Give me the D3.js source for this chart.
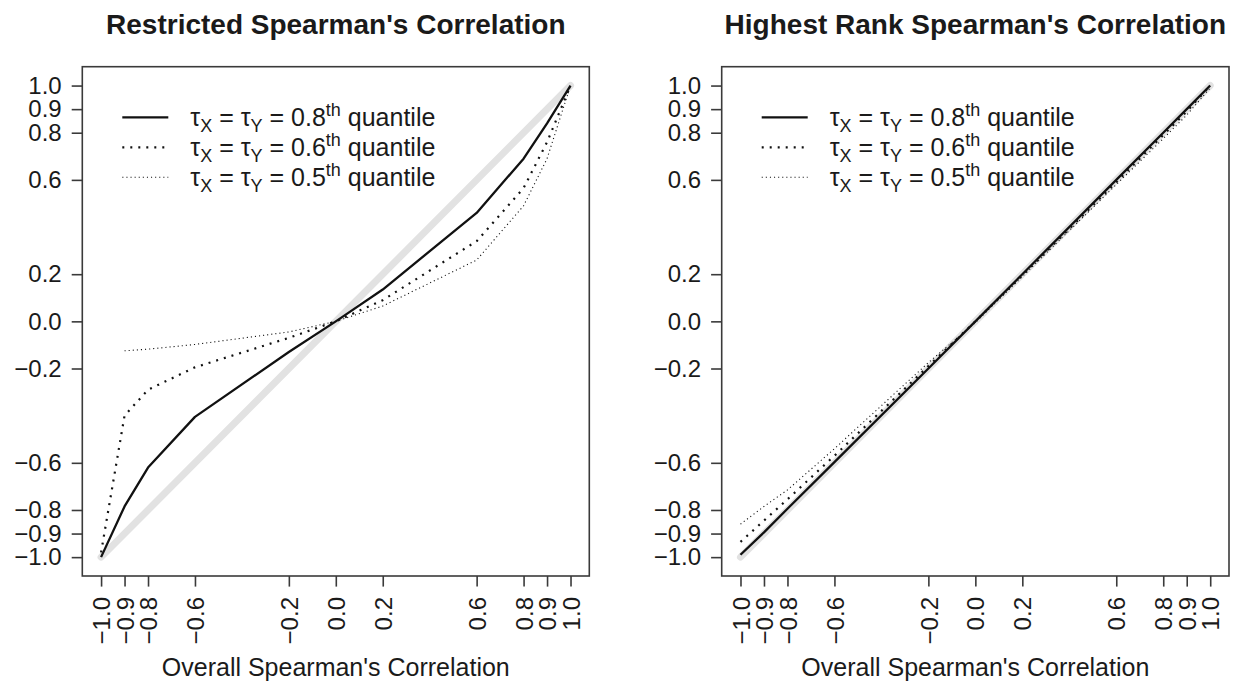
<!DOCTYPE html>
<html>
<head>
<meta charset="utf-8">
<script src="https://cdn.jsdelivr.net/npm/d3@7"></script>
<style>
  body { margin: 0; background: #fff; }
  svg { display: block; font-family: "Liberation Sans", Arial, Helvetica, sans-serif; }
</style>
</head>
<body>
<div id="chart"></div>
<script>
// values
const rhoOverall = [-1, -0.9, -0.8, -0.6, -0.2, 0, 0.2, 0.6, 0.8, 0.9, 1];
const tickValues = [-1, -0.9, -0.8, -0.6, -0.2, 0, 0.2, 0.6, 0.8, 0.9, 1];

// restricted spearman (left panel)
const restricted80 = [-1, -0.785, -0.62, -0.405, -0.13, 0, 0.135, 0.46, 0.69, 0.84, 1];
const restricted60 = [-0.98, -0.40, -0.29, -0.195, -0.07, 0, 0.09, 0.34, 0.565, 0.76, 1];
const restricted50 = [null, -0.125, -0.118, -0.098, -0.045, 0, 0.065, 0.26, 0.49, 0.69, 1];

// highest rank spearman (right panel)
const highest80 = [-0.99, -0.895, -0.795, -0.597, -0.2, 0, 0.2, 0.6, 0.8, 0.9, 1];
const highest60 = [-0.935, -0.845, -0.755, -0.57, -0.19, 0, 0.195, 0.59, 0.79, 0.89, 1];
const highest50 = [-0.86, -0.785, -0.715, -0.54, -0.175, -0.005, 0.19, 0.58, 0.775, 0.875, 0.99];

const quantiles = ["0.8", "0.6", "0.5"];
const titles = ["Restricted Spearman's Correlation", "Highest Rank Spearman's Correlation"];
const xTitle = "Overall Spearman's Correlation";

const W = 1238, H = 685;
const svg = d3.select("#chart").append("svg").attr("width", W).attr("height", H);

// line styles for the three quantiles: solid, dotted, fine dotted
const styles = [
  { width: 2.3, dash: null },
  { width: 2.2, dash: "2,6" },
  { width: 1.1, dash: "1.1,3" }
];

const panels = [
  { left: 82.3, right: 589.3, series: [restricted80, restricted60, restricted50], title: titles[0] },
  { left: 721.7, right: 1229, series: [highest80, highest60, highest50], title: titles[1] }
];
const plotTop = 66.7, plotBottom = 576;
const fontSize = 24;

panels.forEach(function (p) {
  const x = d3.scaleLinear().domain([-1.08, 1.08]).range([p.left, p.right]);
  const y = d3.scaleLinear().domain([-1.08, 1.08]).range([plotBottom, plotTop]);
  const g = svg.append("g");

  // grey reference diagonal
  g.append("line")
    .attr("x1", x(-1)).attr("y1", y(-1))
    .attr("x2", x(1)).attr("y2", y(1))
    .attr("stroke", "#e2e2e2")
    .attr("stroke-width", 7)
    .attr("stroke-linecap", "round");

  const line = d3.line()
    .defined(d => d[1] != null)
    .x(d => x(d[0]))
    .y(d => y(d[1]));

  // draw finest first so the solid line sits on top
  [2, 1, 0].forEach(function (i) {
    const pts = rhoOverall.map((v, k) => [v, p.series[i][k]]);
    g.append("path")
      .datum(pts)
      .attr("d", line)
      .attr("fill", "none")
      .attr("stroke", "#111")
      .attr("stroke-width", styles[i].width)
      .attr("stroke-dasharray", styles[i].dash)
      .attr("stroke-linejoin", "round");
  });

  // box
  g.append("rect")
    .attr("x", p.left).attr("y", plotTop)
    .attr("width", p.right - p.left).attr("height", plotBottom - plotTop)
    .attr("fill", "none")
    .attr("stroke", "#3a3a3a")
    .attr("stroke-width", 1.6);

  // y axis
  const yAxis = g.append("g")
    .attr("transform", "translate(" + p.left + ",0)")
    .call(d3.axisLeft(y).tickValues(tickValues).tickSize(10.6).tickPadding(10).tickFormat(d3.format(".1f")));
  yAxis.select(".domain").remove();
  yAxis.selectAll("line").attr("stroke", "#3a3a3a").attr("stroke-width", 1.6);
  yAxis.selectAll("text")
    .attr("font-size", fontSize)
    .attr("font-family", "Liberation Sans, Arial, sans-serif")
    .attr("fill", "#1a1a1a");

  // x axis with vertical labels
  const xAxis = g.append("g")
    .attr("transform", "translate(0," + plotBottom + ")")
    .call(d3.axisBottom(x).tickValues(tickValues).tickSize(10.6).tickFormat(d3.format(".1f")));
  xAxis.select(".domain").remove();
  xAxis.selectAll("line").attr("stroke", "#3a3a3a").attr("stroke-width", 1.6);
  xAxis.selectAll("text")
    .attr("transform", "rotate(-90)")
    .attr("text-anchor", "end")
    .attr("x", -21)
    .attr("y", 0)
    .attr("dy", "0.36em")
    .attr("font-size", fontSize)
    .attr("font-family", "Liberation Sans, Arial, sans-serif")
    .attr("fill", "#1a1a1a");

  const cx = (p.left + p.right) / 2;

  // title
  g.append("text")
    .attr("x", cx).attr("y", 34)
    .attr("text-anchor", "middle")
    .attr("font-size", 28)
    .attr("font-weight", "bold")
    .attr("fill", "#1a1a1a")
    .text(p.title);

  // x axis title
  g.append("text")
    .attr("x", cx).attr("y", 676)
    .attr("text-anchor", "middle")
    .attr("font-size", 25)
    .attr("fill", "#1a1a1a")
    .text(xTitle);

  // legend
  const lx = p.left + 40;
  quantiles.forEach(function (q, i) {
    const ly = 117.3 + i * 30;
    g.append("line")
      .attr("x1", lx).attr("x2", lx + 46)
      .attr("y1", ly).attr("y2", ly)
      .attr("stroke", "#111")
      .attr("stroke-width", styles[i].width)
      .attr("stroke-dasharray", styles[i].dash);
    const t = g.append("text")
      .attr("x", lx + 68).attr("y", ly + 9)
      .attr("font-size", 25)
      .attr("fill", "#1a1a1a");
    t.append("tspan").text("τ");
    t.append("tspan").attr("font-size", 18).attr("dy", 6).text("X");
    t.append("tspan").attr("dy", -6).text(" = τ");
    t.append("tspan").attr("font-size", 18).attr("dy", 6).text("Y");
    t.append("tspan").attr("dy", -6).text(" = " + q);
    t.append("tspan").attr("font-size", 18).attr("dy", -10).text("th");
    t.append("tspan").attr("dy", 10).text(" quantile");
  });
});
</script>
</body>
</html>
